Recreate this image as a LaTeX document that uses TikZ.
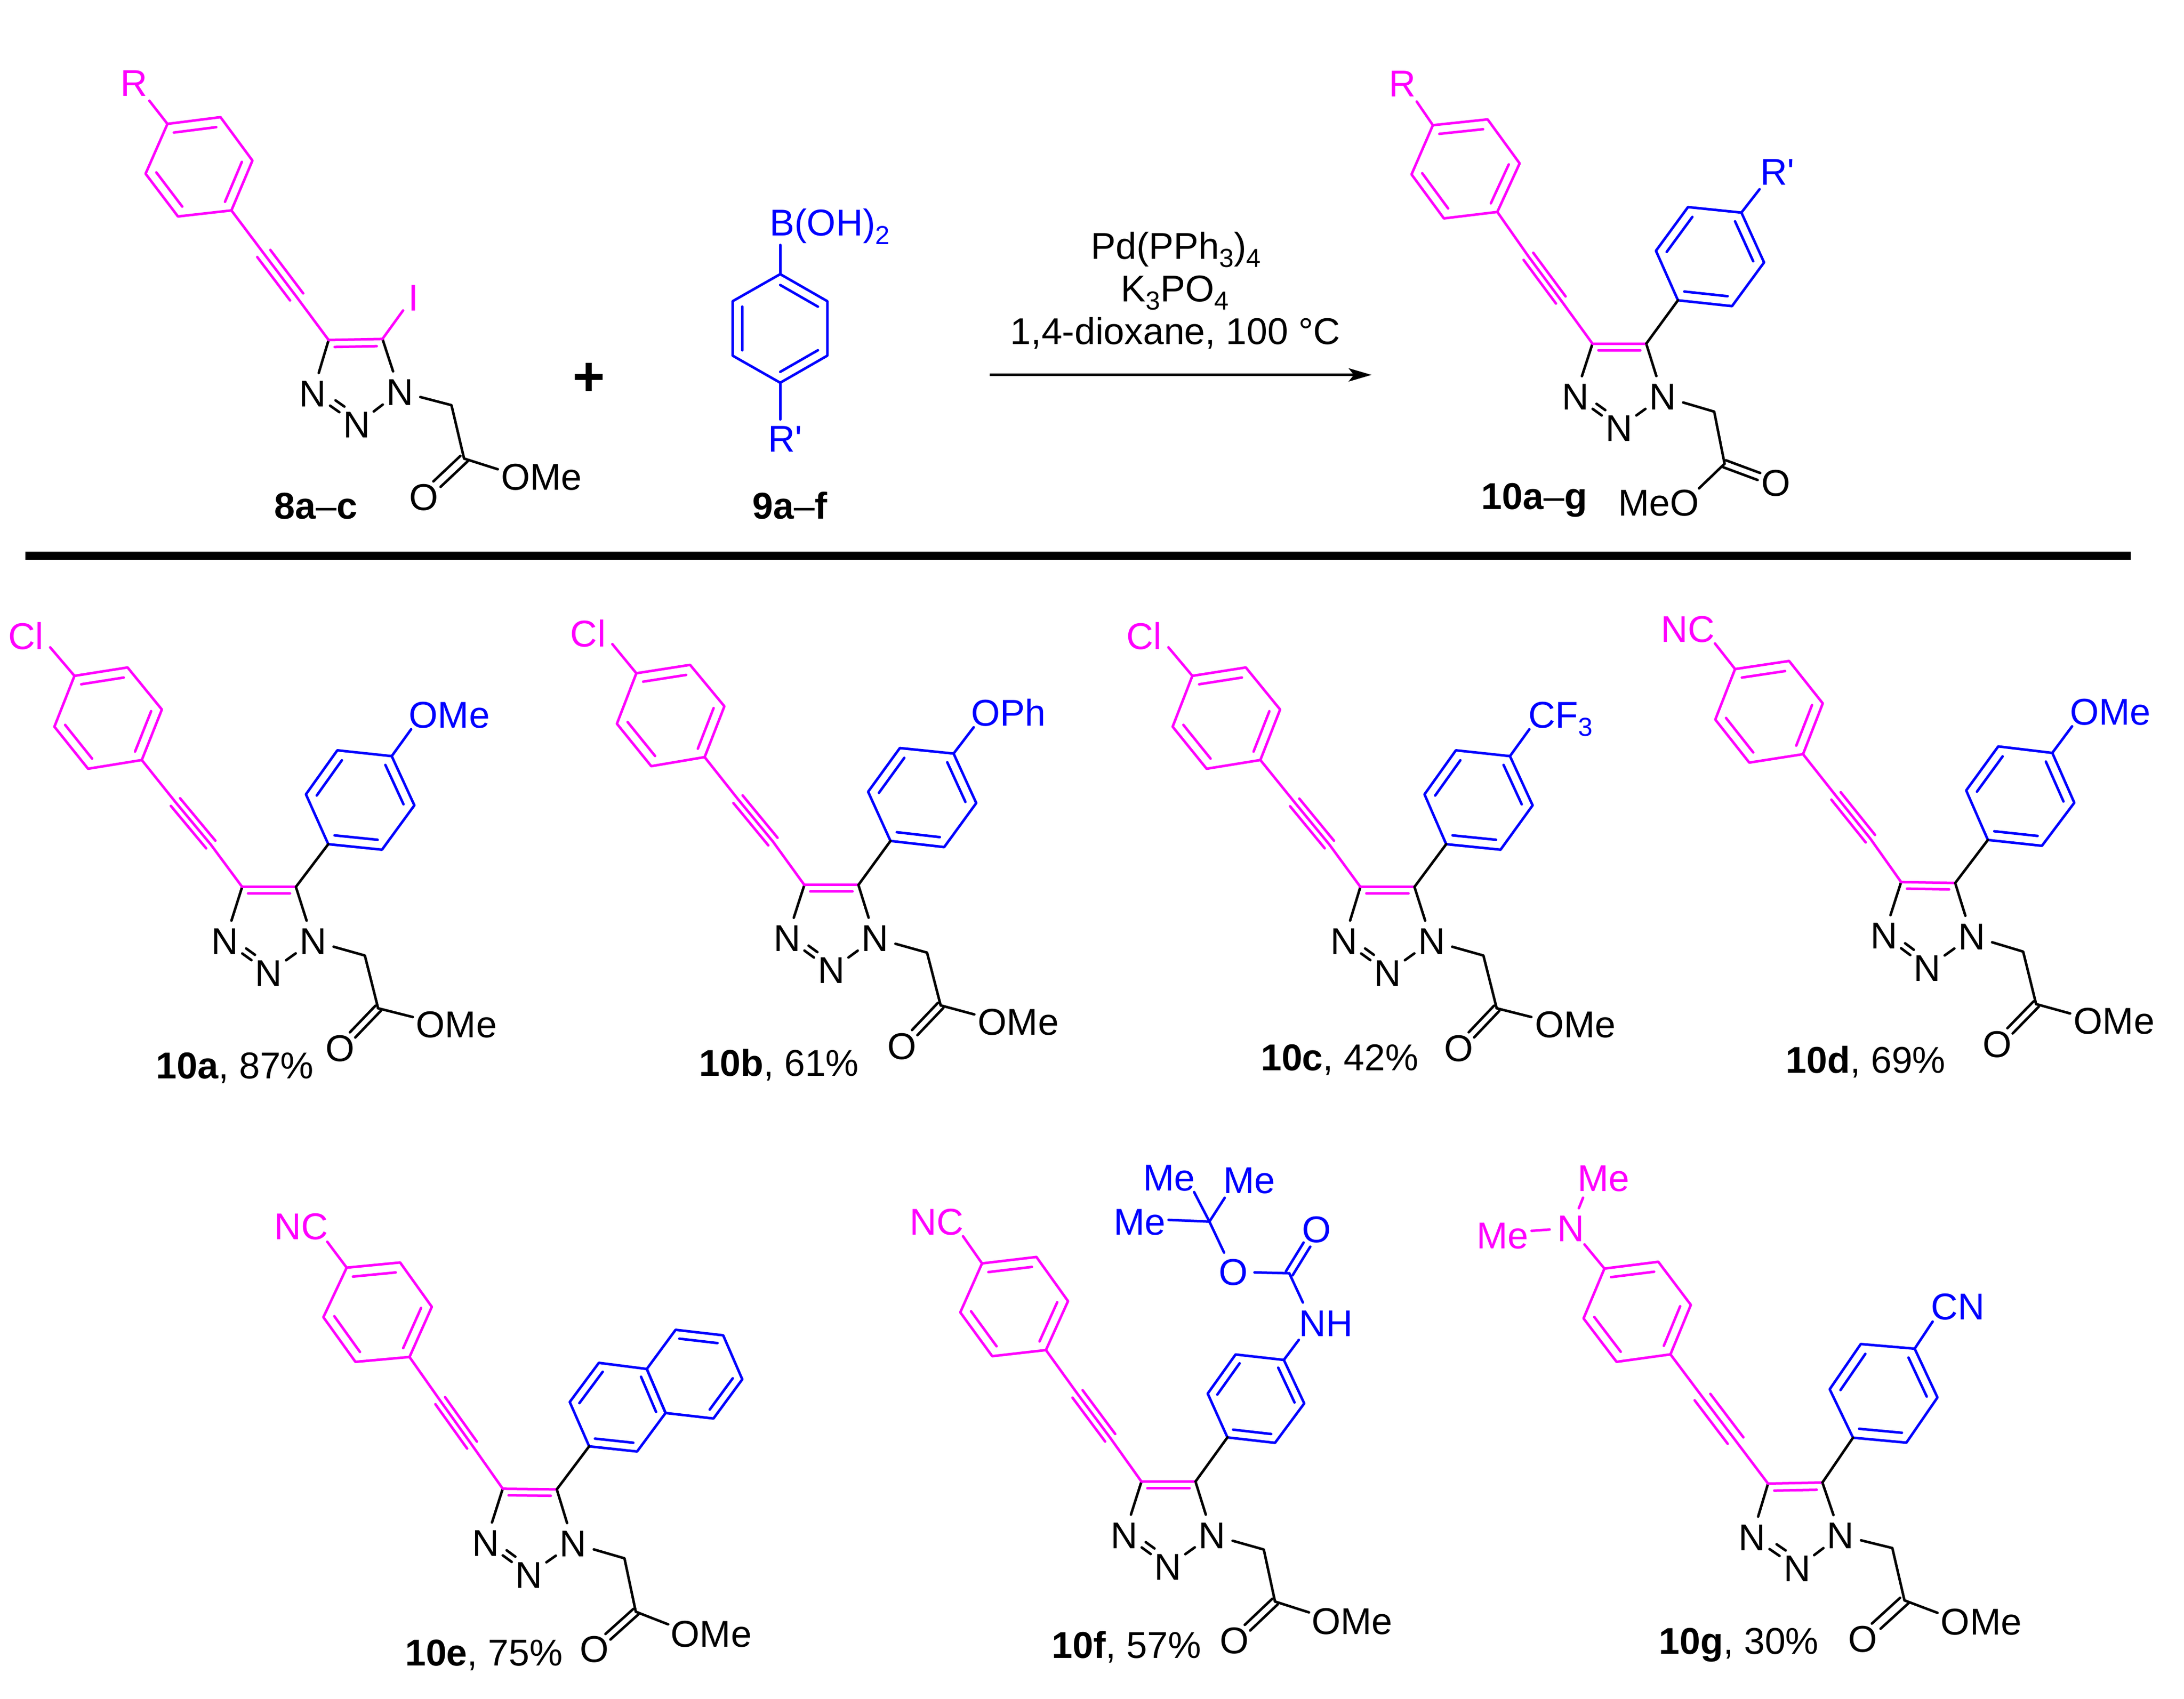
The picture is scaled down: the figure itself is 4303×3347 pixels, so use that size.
\documentclass[tikz,border=0pt]{standalone}
\usepackage{fontspec}
\setmainfont{Liberation Sans}
\newfontfamily\rawf{Liberation Sans}
\usetikzlibrary{calc,arrows.meta}
\definecolor{pk}{RGB}{255,0,255}
\definecolor{bl}{RGB}{0,0,255}
\newcommand\sbs[1]{\raisebox{-.22em}{\fontsize{14.6}{14.6}\selectfont #1}}
\newcommand\prm{{\rawf '}}
\tikzset{
  bond/.style={line width=.05cm,line cap=round,line join=round},
  pkbond/.style={bond,draw=pk},
  blbond/.style={bond,draw=bl},
  kbond/.style={bond,draw=black},
  lab/.style={inner sep=0pt,outer sep=0pt,font=\fontsize{20.9}{24}\selectfont,text height=15pt,text depth=0pt,align=center},
  atom/.style={lab,circle,minimum size=.84cm},
  zsq/.style={xscale=.6378,yscale=.6378},
  zbig/.style={xscale=.6696,yscale=.6696},
  zone/.style={xscale=.829,yscale=.7015},
  ztwo/.style={xscale=.9566,yscale=.7015}
}
% #1 prefix, #2 style, #3-#8 vertices
\newcommand\hexa[8]{%
  \coordinate (#1a) at #3; \coordinate (#1b) at #4; \coordinate (#1c) at #5;
  \coordinate (#1d) at #6; \coordinate (#1e) at #7; \coordinate (#1f) at #8;
  \coordinate (#1o) at ($(#1a)!.5!(#1d)$);
  \draw[#2] (#1a)--(#1b)--(#1c)--(#1d)--(#1e)--(#1f)--cycle;
  \draw[#2] ($(#1a)!.2!(#1o)$)--($(#1b)!.2!(#1o)$);
  \draw[#2] ($(#1c)!.2!(#1o)$)--($(#1d)!.2!(#1o)$);
}
\newcommand\arene[8]{%
  \hexa{#1}{#2}{#3}{#4}{#5}{#6}{#7}{#8}%
  \draw[#2] ($(#1e)!.2!(#1o)$)--($(#1f)!.2!(#1o)$);
}
% #1 style, #2 carbon, #3 oxygen
\newcommand\dblO[3]{%
  \draw[#1,shorten >=.36cm] ($(#2)!.115cm!90:(#3)$)--($(#3)!.115cm!-90:(#2)$);
  \draw[#1,shorten >=.36cm] ($(#2)!.115cm!-90:(#3)$)--($(#3)!.115cm!90:(#2)$);
}
% c4 c5 n3 n2 n1 ch2 co o
\newcommand\core[8]{%
  \coordinate (C4) at #1; \coordinate (C5) at #2;
  \node[atom] (N3) at #3 {N}; \node[atom] (N2) at #4 {N}; \node[atom] (N1) at #5 {N};
  \coordinate (CH2) at #6; \coordinate (CO) at #7;
  \node[atom] (Oc) at #8 {O};
  \draw[kbond] (C4)--(N3);
  \draw[kbond] (C5)--(N1);
  \draw[kbond] (N2)--(N1);
  \draw[kbond] (N3)--(N2);
  \draw[kbond] ($(N3)!.40!(N2)!.197cm!90:(N2)$)--($(N2)!.40!(N3)!.197cm!-90:(N3)$);
  \draw[kbond] (N1)--(CH2)--(CO);
  \draw[pkbond] (C4)--(C5);
  \draw[pkbond] ($(C4)!.11!(C5)!.2cm!-90:(C5)$)--($(C5)!.11!(C4)!.2cm!90:(C4)$);
  \dblO{kbond}{CO}{Oc}%
}
\newcommand\alkyne[2]{%
  \coordinate (A1) at #1; \coordinate (A2) at #2;
  \draw[pkbond] (Pd)--(A1)--(A2)--(C4);
  \draw[pkbond] ($(A1)!.185cm!90:(A2)$)--($(A2)!.185cm!-90:(A1)$);
  \draw[pkbond] ($(A1)!.185cm!-90:(A2)$)--($(A2)!.185cm!90:(A1)$);
}
% #1 colour, #2 name, #3 from, #4 centre, #5 bond end, #6 text
\newcommand\subst[6]{%
  \node[lab,text=#1] (#2) at #4 {#6};
  \coordinate (#2e) at #5;
  \draw[bond,draw=#1] (#3)--(#2e);
}
\begin{document}
\begin{tikzpicture}[x=.01cm,y=-.01cm]
\useasboundingbox (0,0) rectangle (4303,3347);
\fill[white] (0,0) rectangle (4303,3347);
% rule
\coordinate (ruleL) at (50,1094.7); \coordinate (ruleR) at (4198,1094.7);
\draw[line width=.16cm] (ruleL)--(ruleR);

% 8a-c
\begin{scope}[zone,name prefix=s8-]
\arene{P}{pkbond}{(398,348)}{(524,329)}{(600,451)}{(550,591)}{(423,608)}{(346,488)}
\core{(781,955)}{(909,952)}{(743,1105)}{(848,1192)}{(950,1100)}{(1073,1138)}{(1103,1288)}{(1007,1395)}
\alkyne{(627,712)}{(705,834)}
\subst{pk}{R}{Pa}{(318,232)}{(355,283)}{R}
\subst{pk}{I}{C5}{(983,835)}{(958,872)}{I}
\subst{black}{OMe}{CO}{(1287,1338)}{(1183,1318)}{OMe}
\node[lab] (name) at (751,1420) {\textbf{8a}--\textbf{c}};
\node[lab,font=\fontsize{31}{34}\selectfont\bfseries,text height=15pt] (plus) at (1400,1073) {+};
\end{scope}

% 9a-f and reagents
\begin{scope}[shift={(1300,0)},ztwo,name prefix=s9-]
\arene{Q}{blbond}{(248,770)}{(345,846)}{(345,999)}{(248,1075)}{(150,999)}{(150,846)}
\subst{bl}{B}{Qa}{(350,625)}{(248,688)}{B(OH)\sbs{2}}
\subst{bl}{Rp}{Qd}{(258,1232)}{(248,1178)}{R\prm}
\node[lab] (name) at (268,1420) {\textbf{9a}--\textbf{f}};
\node[lab] (re1) at (1063,690) {Pd(PPh\sbs{3})\sbs{4}};
\node[lab] (re2) at (1061,810) {K\sbs{3}PO\sbs{4}};
\node[lab] (re3) at (1062,930) {1,4-dioxane, 100 °C};
\coordinate (arrS) at (680,1053); \coordinate (arrE) at (1466,1053);
\draw[line width=.05cm,-{Stealth[length=.45cm,width=.26cm,inset=.1cm]}] (arrS)--(arrE);
\end{scope}

% 10a-g
\begin{scope}[shift={(2700,100)},zsq,name prefix=pr-]
\arene{P}{pkbond}{(193,230)}{(362,212)}{(461,348)}{(392,498)}{(227,518)}{(127,382)}
\arene{Q}{blbond}{(1146,500)}{(1216,654)}{(1117,789)}{(950,771)}{(882,618)}{(981,483)}
\core{(686,905)}{(852,905)}{(633,1068)}{(768,1165)}{(903,1068)}{(1062,1115)}{(1094,1276)}{(1253,1335)}
\alkyne{(488,635)}{(588,770)}
\draw[kbond] (C5)--(Qd);
\subst{pk}{R}{Pa}{(98,100)}{(143,157)}{R}
\subst{bl}{Rp}{Qa}{(1258,373)}{(1202,428)}{R\prm}
\subst{black}{MeO}{CO}{(890,1395)}{(1015,1352)}{MeO}
\node[lab] (name) at (506,1375) {\textbf{10a}--\textbf{g}};
\end{scope}

% 10a
\begin{scope}[shift={(0,1180)},zsq,name prefix=a-]
\arene{P}{pkbond}{(230,238)}{(394,212)}{(500,342)}{(438,498)}{(272,525)}{(168,395)}
\arene{Q}{blbond}{(1210,486)}{(1280,638)}{(1180,775)}{(1014,758)}{(945,604)}{(1042,468)}
\core{(748,890)}{(914,890)}{(695,1057)}{(830,1155)}{(967,1057)}{(1127,1102)}{(1168,1265)}{(1050,1388)}
\alkyne{(542,628)}{(651,759)}
\draw[kbond] (C5)--(Qd);
\subst{pk}{Cl}{Pa}{(80,115)}{(155,150)}{Cl}
\subst{bl}{OMeb}{Qa}{(1388,358)}{(1270,403)}{OMe}
\subst{black}{OMe}{CO}{(1410,1314)}{(1275,1292)}{OMe}
\node[lab] (name) at (726,1441) {\textbf{10a}, 87\%};
\end{scope}

% 10b
\begin{scope}[shift={(1100,1180)},zsq,name prefix=b-]
\arene{P}{pkbond}{(241,230)}{(407,204)}{(513,332)}{(452,489)}{(287,517)}{(181,386)}
\arene{Q}{blbond}{(1221,478)}{(1291,631)}{(1192,767)}{(1026,748)}{(957,596)}{(1055,461)}
\core{(760,884)}{(927,884)}{(707,1048)}{(843,1147)}{(978,1048)}{(1139,1093)}{(1181,1256)}{(1062,1381)}
\alkyne{(555,619)}{(663,750)}
\draw[kbond] (C5)--(Qd);
\subst{pk}{Cl}{Pa}{(92,107)}{(167,140)}{Cl}
\subst{bl}{OPh}{Qa}{(1390,352)}{(1283,397)}{OPh}
\subst{black}{OMe}{CO}{(1421,1306)}{(1285,1284)}{OMe}
\node[lab] (name) at (682,1433) {\textbf{10b}, 61\%};
\end{scope}

% 10c
\begin{scope}[shift={(2200,1180)},zsq,name prefix=c-]
\arene{P}{pkbond}{(234,238)}{(399,212)}{(505,342)}{(444,498)}{(278,525)}{(173,395)}
\arene{Q}{blbond}{(1215,486)}{(1285,638)}{(1186,775)}{(1018,758)}{(951,604)}{(1048,468)}
\core{(753,890)}{(920,890)}{(702,1057)}{(837,1155)}{(973,1057)}{(1133,1102)}{(1174,1265)}{(1057,1388)}
\alkyne{(550,629)}{(657,759)}
\draw[kbond] (C5)--(Qd);
\subst{pk}{Cl}{Pa}{(85,115)}{(160,150)}{Cl}
\subst{bl}{CF}{Qa}{(1372,358)}{(1275,403)}{CF\sbs{3}}
\subst{black}{OMe}{CO}{(1417,1314)}{(1281,1292)}{OMe}
\node[lab] (name) at (689,1416) {\textbf{10c}, 42\%};
\end{scope}

% 10d
\begin{scope}[shift={(3280,1180)},zsq,name prefix=d-]
\arene{P}{pkbond}{(217,217)}{(384,192)}{(488,323)}{(427,480)}{(261,506)}{(156,373)}
\arene{Q}{blbond}{(1197,476)}{(1265,630)}{(1165,763)}{(998,745)}{(931,592)}{(1030,456)}
\core{(730,875)}{(897,878)}{(677,1040)}{(811,1140)}{(948,1042)}{(1107,1090)}{(1147,1252)}{(1027,1375)}
\alkyne{(529,609)}{(635,741)}
\draw[kbond] (C5)--(Qd);
\subst{pk}{NC}{Pa}{(72,92)}{(155,138)}{NC}
\subst{bl}{OMeb}{Qa}{(1376,348)}{(1258,394)}{OMe}
\subst{black}{OMe}{CO}{(1388,1303)}{(1252,1281)}{OMe}
\node[lab] (name) at (621,1424) {\textbf{10d}, 69\%};
\end{scope}

% 10e
\begin{scope}[shift={(500,2350)},zsq,name prefix=e-]
\arene{P}{pkbond}{(287,232)}{(452,216)}{(550,353)}{(481,508)}{(314,523)}{(215,385)}
\arene{Q}{blbond}{(1214,545)}{(1272,681)}{(1184,800)}{(1036,784)}{(976,647)}{(1066,526)}
\hexa{S}{blbond}{(1303,424)}{(1450,441)}{(1509,577)}{(1420,698)}{(1272,681)}{(1214,545)}
\core{(769,915)}{(936,917)}{(716,1082)}{(850,1180)}{(987,1084)}{(1145,1130)}{(1180,1295)}{(1052,1410)}
\alkyne{(576,643)}{(674,780)}
\draw[kbond] (C5)--(Qd);
\subst{pk}{NC}{Pa}{(147,103)}{(227,152)}{NC}
\subst{black}{OMe}{CO}{(1413,1362)}{(1280,1334)}{OMe}
\node[lab] (name) at (711,1421) {\textbf{10e}, 75\%};
\end{scope}

% 10f
\begin{scope}[shift={(1750,2280)},zbig,name prefix=f-]
\arene{P}{pkbond}{(276,313)}{(436,294)}{(529,424)}{(464,568)}{(306,586)}{(212,457)}
\arene{Q}{blbond}{(1164,597)}{(1224,725)}{(1138,841)}{(998,825)}{(940,696)}{(1022,581)}
\core{(745,955)}{(904,955)}{(695,1112)}{(823,1205)}{(953,1112)}{(1105,1155)}{(1138,1308)}{(1018,1422)}
\alkyne{(557,697)}{(653,826)}
\draw[kbond] (C5)--(Qd);
\subst{pk}{NC}{Pa}{(143,190)}{(220,233)}{NC}
\subst{bl}{NH}{Qa}{(1288,488)}{(1208,538)}{NH}
\coordinate (Boc) at (1180,342); \coordinate (NHu) at (1220,428);
\draw[blbond] (Boc)--(NHu);
\node[atom,text=bl] (Ob) at (1260,212) {O};
\dblO{blbond}{Boc}{Ob}
\node[atom,text=bl] (Oe) at (1015,338) {O};
\draw[blbond] (Oe)--(Boc);
\coordinate (tC) at (945,190);
\draw[blbond] (tC)--(Oe);
\subst{bl}{Me1}{tC}{(826,60)}{(900,103)}{Me}
\subst{bl}{Me2}{tC}{(1062,67)}{(990,120)}{Me}
\subst{bl}{Me3}{tC}{(740,190)}{(825,185)}{Me}
\subst{black}{OMe}{CO}{(1365,1365)}{(1238,1340)}{OMe}
\node[lab] (name) at (701,1436) {\textbf{10f}, 57\%};
\end{scope}

% 10g
\begin{scope}[shift={(2700,2250)},ztwo,name prefix=g-]
\arene{P}{pkbond}{(482,356)}{(593,337)}{(660,458)}{(618,597)}{(507,618)}{(439,496)}
\arene{Q}{blbond}{(1121,581)}{(1168,718)}{(1104,845)}{(994,831)}{(946,695)}{(1010,568)}
\core{(819,960)}{(931,957)}{(786,1110)}{(879,1197)}{(968,1105)}{(1075,1141)}{(1100,1288)}{(1014,1395)}
\alkyne{(684,717)}{(752,839)}
\draw[kbond] (C5)--(Qd);
\subst{bl}{CN}{Qa}{(1210,462)}{(1158,505)}{CN}
\node[atom,text=pk] (Nm) at (413,242) {N};
\draw[pkbond] (Pa)--(Nm);
\subst{pk}{Me1}{Nm}{(480,102)}{(438,157)}{Me}
\subst{pk}{Me2}{Nm}{(272,262)}{(332,250)}{Me}
\subst{black}{OMe}{CO}{(1258,1347)}{(1168,1323)}{OMe}
\node[lab] (name) at (759,1402) {\textbf{10g}, 30\%};
\end{scope}
\end{tikzpicture}
\end{document}
